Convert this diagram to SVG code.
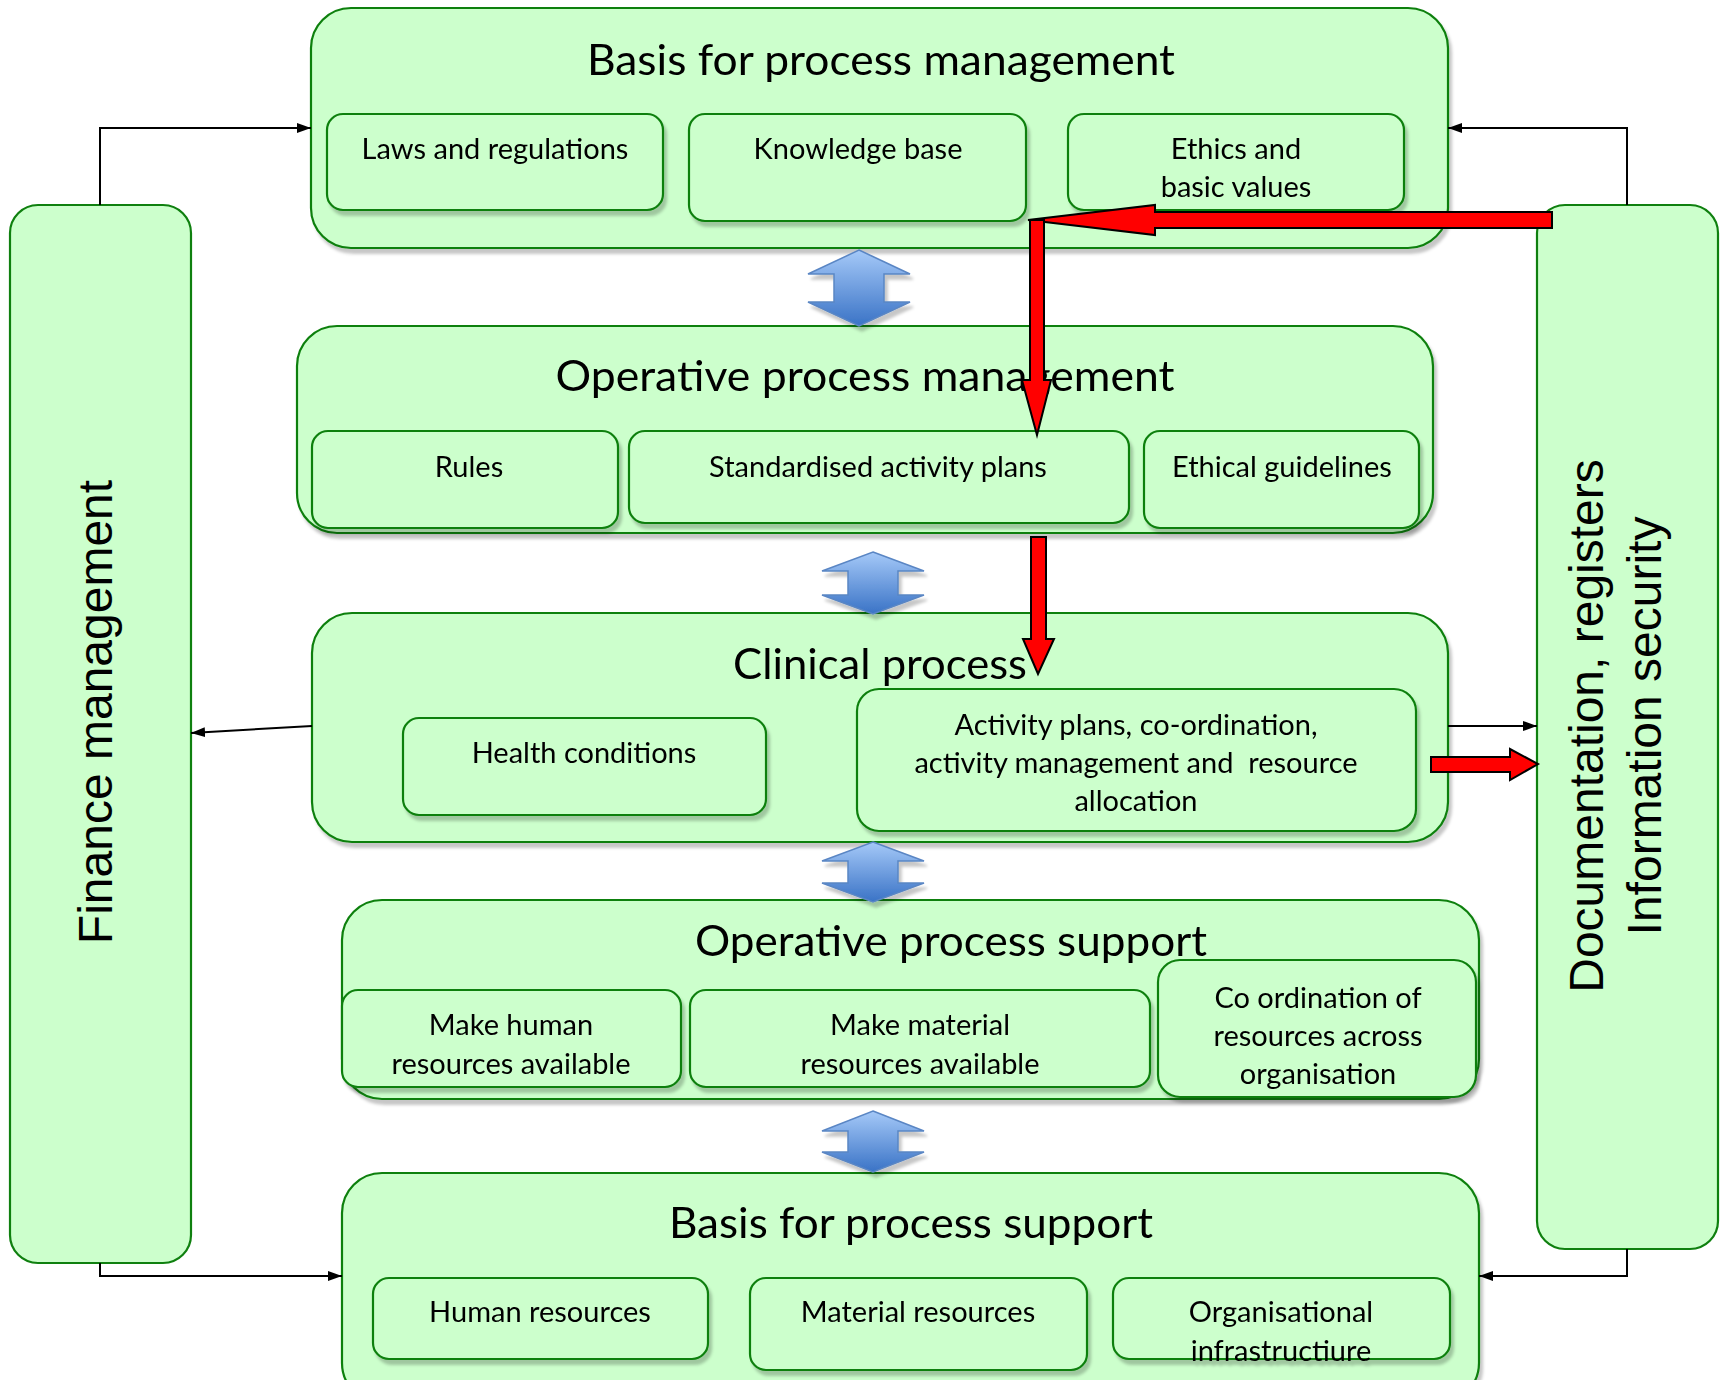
<svg xmlns="http://www.w3.org/2000/svg" width="1725" height="1380" viewBox="0 0 1725 1380">
  <style>
    .box { fill: #ccffcc; stroke: #0f800f; stroke-width: 2.2; }
    .side { fill: #ccffcc; stroke: #0f800f; stroke-width: 2.2; }
    .t { font-family: Lato, "Open Sans", "Liberation Sans", sans-serif; fill: #000; text-anchor: middle; }
    .title { font-size: 43px; }
    .lbl { font-size: 29px; }
    .vt { font-family: "Liberation Sans", Arial, sans-serif; font-size: 48px; fill: #000; text-anchor: middle; }
    .link { fill: none; stroke: #000; stroke-width: 2; }
    .red { fill: #ff0000; stroke: #000; stroke-width: 2; stroke-linejoin: miter; }
    .flow { fill: url(#blueGrad); stroke: #5a86c4; stroke-width: 1.5; }
  </style>
  <defs>
    <filter id="sh" x="-5%" y="-5%" width="112%" height="120%">
      <feDropShadow dx="3" dy="5" stdDeviation="1.5" flood-color="#000" flood-opacity="0.22"/>
    </filter>
    <linearGradient id="blueGrad" x1="0" y1="0" x2="0" y2="1">
      <stop offset="0" stop-color="#a5c9f8"/>
      <stop offset="1" stop-color="#3a73c6"/>
    </linearGradient>
    <marker id="ah" viewBox="0 0 14 10" refX="14" refY="5" markerWidth="14" markerHeight="10" markerUnits="userSpaceOnUse" orient="auto">
      <path d="M0,0 L14,5 L0,10 Z" fill="#000"/>
    </marker>
  </defs>

  <!-- side columns -->
  <g id="finance-management">
    <rect class="side" x="10" y="205" width="181" height="1058" rx="28"/>
    <text class="vt" transform="translate(112,712) rotate(-90)">Finance management</text>
  </g>
  <g id="documentation">
    <rect class="side" x="1537" y="205" width="181" height="1044" rx="28"/>
    <text class="vt" transform="translate(1603,726) rotate(-90)">Documentation, registers</text>
    <text class="vt" transform="translate(1661,726) rotate(-90)">Information security</text>
  </g>

  <!-- layer 1 -->
  <g id="basis-process-management" filter="url(#sh)">
    <rect class="box" x="311" y="8" width="1137" height="240" rx="40"/>
    <text class="t title" x="881" y="75" textLength="588" lengthAdjust="spacingAndGlyphs">Basis for process management</text>
  </g>
  <g id="laws-regulations" filter="url(#sh)">
    <rect class="box" x="327" y="114" width="336" height="96" rx="16"/>
    <text class="t lbl" x="495" y="159">Laws and regulations</text>
  </g>
  <g id="knowledge-base" filter="url(#sh)">
    <rect class="box" x="689" y="114" width="337" height="107" rx="16"/>
    <text class="t lbl" x="858" y="159">Knowledge base</text>
  </g>
  <g id="ethics-values" filter="url(#sh)">
    <rect class="box" x="1068" y="114" width="336" height="96" rx="16"/>
    <text class="t lbl" x="1236" y="159">Ethics and</text>
    <text class="t lbl" x="1236" y="197">basic values</text>
  </g>

  <!-- layer 2 -->
  <g id="operative-process-management" filter="url(#sh)">
    <rect class="box" x="297" y="326" width="1136" height="207" rx="40"/>
    <text class="t title" x="865" y="391" textLength="619" lengthAdjust="spacingAndGlyphs">Operative process management</text>
  </g>
  <g id="rules" filter="url(#sh)">
    <rect class="box" x="312" y="431" width="306" height="97" rx="16"/>
    <text class="t lbl" x="469" y="477">Rules</text>
  </g>
  <g id="standardised-plans" filter="url(#sh)">
    <rect class="box" x="629" y="431" width="500" height="92" rx="16"/>
    <text class="t lbl" x="878" y="477">Standardised activity plans</text>
  </g>
  <g id="ethical-guidelines" filter="url(#sh)">
    <rect class="box" x="1144" y="431" width="275" height="97" rx="16"/>
    <text class="t lbl" x="1282" y="477">Ethical guidelines</text>
  </g>

  <!-- layer 3 -->
  <g id="clinical-process" filter="url(#sh)">
    <rect class="box" x="312" y="613" width="1136" height="229" rx="40"/>
    <text class="t title" x="880" y="679" textLength="294" lengthAdjust="spacingAndGlyphs">Clinical process</text>
  </g>
  <g id="health-conditions" filter="url(#sh)">
    <rect class="box" x="403" y="718" width="363" height="97" rx="16"/>
    <text class="t lbl" x="584" y="763">Health conditions</text>
  </g>
  <g id="activity-plans" filter="url(#sh)">
    <rect class="box" x="857" y="689" width="559" height="142" rx="22"/>
    <text class="t lbl" x="1136" y="735">Activity plans, co-ordination,</text>
    <text class="t lbl" x="1136" y="773">activity management and&#160; resource</text>
    <text class="t lbl" x="1136" y="811">allocation</text>
  </g>

  <!-- layer 4 -->
  <g id="operative-process-support" filter="url(#sh)">
    <rect class="box" x="342" y="900" width="1137" height="199" rx="40"/>
    <text class="t title" x="951" y="956" textLength="512" lengthAdjust="spacingAndGlyphs">Operative process support</text>
  </g>
  <g id="human-available" filter="url(#sh)">
    <rect class="box" x="342" y="990" width="339" height="97" rx="16"/>
    <text class="t lbl" x="511" y="1035">Make human</text>
    <text class="t lbl" x="511" y="1074">resources available</text>
  </g>
  <g id="material-available" filter="url(#sh)">
    <rect class="box" x="690" y="990" width="460" height="97" rx="16"/>
    <text class="t lbl" x="920" y="1035">Make material</text>
    <text class="t lbl" x="920" y="1074">resources available</text>
  </g>
  <g id="coordination" filter="url(#sh)">
    <rect class="box" x="1158" y="960" width="318" height="137" rx="22"/>
    <text class="t lbl" x="1318" y="1008">Co ordination of</text>
    <text class="t lbl" x="1318" y="1046">resources across</text>
    <text class="t lbl" x="1318" y="1084">organisation</text>
  </g>

  <!-- layer 5 -->
  <g id="basis-process-support" filter="url(#sh)">
    <rect class="box" x="342" y="1173" width="1137" height="230" rx="40"/>
    <text class="t title" x="911" y="1238" textLength="484" lengthAdjust="spacingAndGlyphs">Basis for process support</text>
  </g>
  <g id="human-resources" filter="url(#sh)">
    <rect class="box" x="373" y="1278" width="335" height="81" rx="16"/>
    <text class="t lbl" x="540" y="1322">Human resources</text>
  </g>
  <g id="material-resources" filter="url(#sh)">
    <rect class="box" x="750" y="1278" width="337" height="92" rx="16"/>
    <text class="t lbl" x="918" y="1322">Material resources</text>
  </g>
  <g id="organisational-infrastructure" filter="url(#sh)">
    <rect class="box" x="1113" y="1278" width="337" height="81" rx="16"/>
    <text class="t lbl" x="1281" y="1322">Organisational</text>
    <text class="t lbl" x="1281" y="1361">infrastructiure</text>
  </g>

  <!-- connectors -->
  <g id="connectors">
    <!-- two-way flows between layers -->
    <g filter="url(#sh)">
      <polygon class="flow" points="859,250 910,274 884,274 884,302 910,302 859,326 808,302 834,302 834,274 808,274"/>
      <polygon class="flow" points="873,552 924,571 898,571 898,595 924,595 873,614 822,595 848,595 848,571 822,571"/>
      <polygon class="flow" points="873,842 924,861 898,861 898,883 924,883 873,902 822,883 848,883 848,861 822,861"/>
      <polygon class="flow" points="873,1111 924,1131 898,1131 898,1152 924,1152 873,1172 822,1152 848,1152 848,1131 822,1131"/>
    </g>
    <!-- side links -->
    <polyline class="link" points="100,205 100,128 311,128" marker-end="url(#ah)"/>
    <polyline class="link" points="1627,205 1627,128 1448,128" marker-end="url(#ah)"/>
    <line class="link" x1="312" y1="726" x2="191" y2="733" marker-end="url(#ah)"/>
    <line class="link" x1="1448" y1="726" x2="1537" y2="726" marker-end="url(#ah)"/>
    <polyline class="link" points="100,1263 100,1276 342,1276" marker-end="url(#ah)"/>
    <polyline class="link" points="1627,1249 1627,1276 1479,1276" marker-end="url(#ah)"/>
    <!-- red flows -->
    <polygon class="red" points="1552,212 1155,212 1155,205 1028,220 1155,235 1155,228 1552,228"/>
    <polygon class="red" points="1030,220 1044,220 1044,380 1051,380 1037,435 1022,380 1030,380"/>
    <polygon class="red" points="1031,537 1046,537 1046,639 1054,639 1038,674 1023,639 1031,639"/>
    <polygon class="red" points="1431,757 1510,757 1510,749 1538,764 1510,780 1510,772 1431,772"/>
  </g>
</svg>
